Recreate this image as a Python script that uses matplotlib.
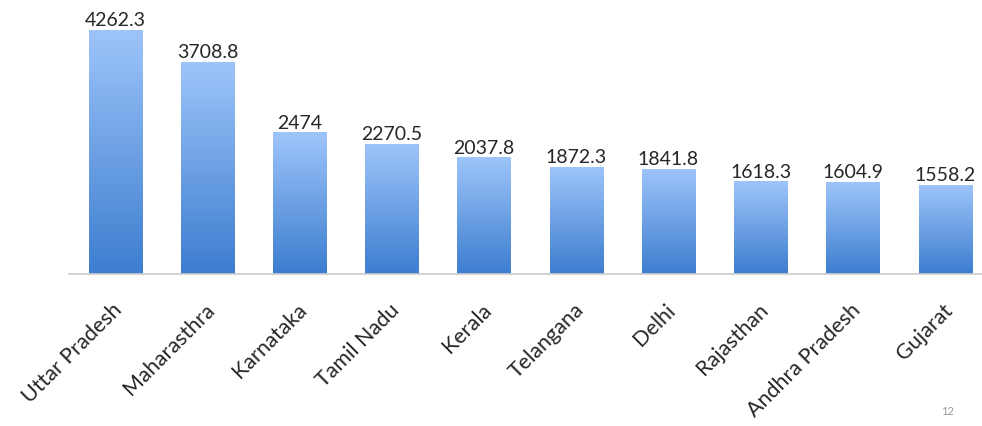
import numpy as np
import matplotlib
matplotlib.use("Agg")
import matplotlib.pyplot as plt
from matplotlib.transforms import ScaledTranslation

states = ["Uttar Pradesh", "Maharasthra", "Karnataka", "Tamil Nadu", "Kerala",
          "Telangana", "Delhi", "Rajasthan", "Andhra Pradesh", "Gujarat"]
values = [4262.3, 3708.8, 2474, 2270.5, 2037.8, 1872.3, 1841.8, 1618.3, 1604.9, 1558.2]
value_labels = ["4262.3", "3708.8", "2474", "2270.5", "2037.8", "1872.3", "1841.8", "1618.3", "1604.9", "1558.2"]

TOP_CLR = np.array([0x9e, 0xc5, 0xfa]) / 255
BOT_CLR = np.array([0x3d, 0x7d, 0xcf]) / 255

plt.rcParams["font.family"] = ["Lato", "DejaVu Sans"]

fig = plt.figure(figsize=(9.82, 4.27), dpi=100)
ax = fig.add_axes([69 / 982, 152 / 427, 913 / 982, 275 / 427])

x = np.arange(len(states))
bars = ax.bar(x, values, width=0.575, color="none", edgecolor="none")

grad = np.linspace(1, 0, 256).reshape(-1, 1)
cmap = matplotlib.colors.LinearSegmentedColormap.from_list("g", [BOT_CLR, TOP_CLR])
for b in bars:
    x0, w, h = b.get_x(), b.get_width(), b.get_height()
    im = ax.imshow(grad, cmap=cmap, aspect="auto", extent=[x0, x0 + w, 0, h],
                   vmin=0, vmax=1, zorder=2)
    im.set_clip_path(b)

for xi, v, lab in zip(x, values, value_labels):
    ax.text(xi, v + 30, lab, ha="center", va="bottom", fontsize=14, color="#262626")

ax.set_xlim(-0.5, 9.4)
ax.set_ylim(0, 4803)
ax.set_xticks(x)
ax.set_xticklabels(states, rotation=45, ha="right", va="center", rotation_mode="anchor",
                   fontsize=15.5, color="#262626")
ax.tick_params(axis="x", length=0, pad=23)
offset = ScaledTranslation(3 / 72, 0, fig.dpi_scale_trans)
for t in ax.get_xticklabels():
    t.set_transform(t.get_transform() + offset)
ax.set_yticks([])
for s in ["top", "left", "right"]:
    ax.spines[s].set_visible(False)
ax.spines["bottom"].set_color("#cccccc")
ax.spines["bottom"].set_linewidth(1.2)

fig.text(948 / 982, 1 - 412 / 427, "12", fontsize=8, color="#999999", ha="center", va="center")

fig.savefig("out.png", dpi=100)
